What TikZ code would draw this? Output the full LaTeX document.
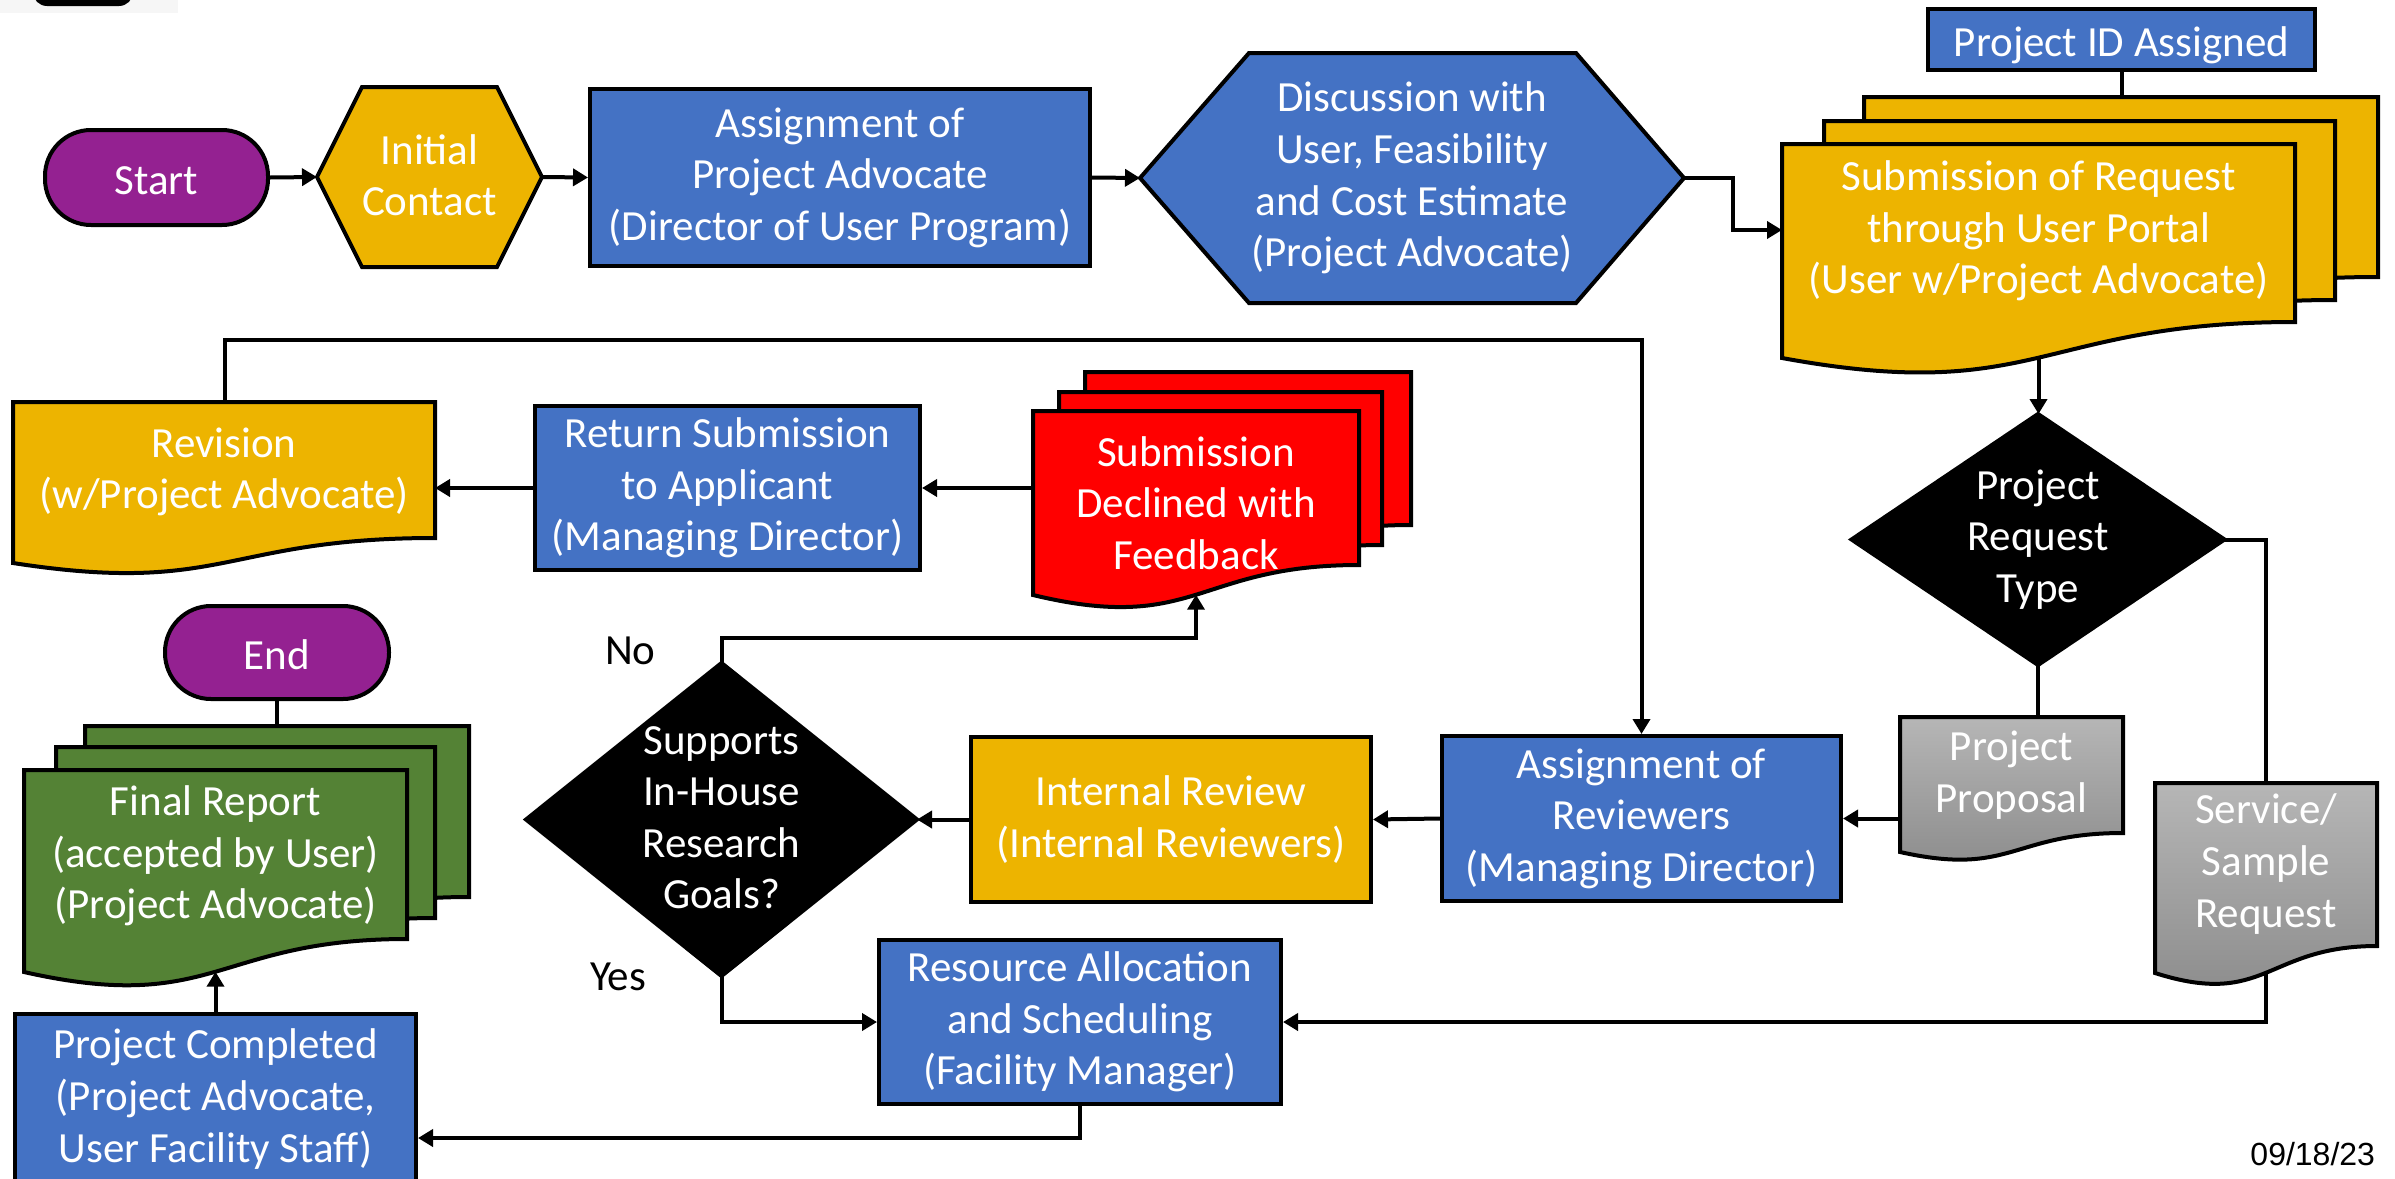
\documentclass[tikz,border=0pt]{standalone}
\usepackage{fontspec}
\setmainfont{Carlito}
\newfontfamily\datefont{Liberation Sans}
\usetikzlibrary{arrows.meta,calc}
\pgfdeclarelayer{bg}
\pgfsetlayers{bg,main}
\definecolor{cpurple}{RGB}{148,33,145}
\definecolor{cgold}{RGB}{237,180,0}
\definecolor{cblue}{RGB}{68,114,196}
\definecolor{cred}{RGB}{255,0,0}
\definecolor{cgreen}{RGB}{84,130,53}
\definecolor{cgrayA}{RGB}{182,182,182}
\definecolor{cgrayB}{RGB}{138,138,138}
\definecolor{cbgg}{RGB}{246,246,246}
\newcommand\dgdepth{8.6pt}
\newcommand\dgstrut{\rule[-\dgdepth]{0pt}{51.6pt}}
\tikzset{
  txt/.style={text=white, font=\fontsize{43}{51.6}\selectfont, align=center,
    inner sep=0pt, outer sep=0pt,
    execute at begin node=\dgstrut, execute at end node=\dgstrut},
  ml/.style={/utils/exec={\def\dgdepth{4.1pt}}},
  frame/.style={txt, rectangle},
  box/.style={txt, rectangle, draw=black, line width=4pt, outer sep=2pt},
  term/.style={box, fill=cpurple, rounded corners=46pt},
  lbl/.style={text=black, font=\fontsize{43}{51.6}\selectfont, inner sep=0pt},
  shp/.style={draw=black, line width=4pt, line join=miter},
  docst/.style={draw=black, line width=4pt, line join=miter},
  arr/.style={line width=4pt, -{Triangle[length=15pt,width=17pt]}},
  ln/.style={line width=4pt}
}
% name, xl, ytop, xr, yr, yl, style
\newcommand\docshape[7]{%
  \begin{pgfonlayer}{bg}
  \draw[docst,#7] (#2,#3) coordinate (#1-tl) -- (#4,#3) coordinate (#1-tr) -- (#4,#5)
    .. controls ({(#2+#4)/2},#5) and ({(#2+#4)/2},{#5+2.31*(#6-#5)}) .. (#2,#6)
    coordinate[pos=0.5] (#1-b) -- cycle;
  \end{pgfonlayer}}
\begin{document}
\begin{tikzpicture}[x=1pt,y=-1pt,line width=4pt]
\useasboundingbox (0,0) rectangle (2395,1178);
\fill[cbgg] (0,0) rectangle (178,13);
\fill[black, rounded corners=14pt] (33,-40) rectangle (133,6);

% ---------- nodes ----------
\node[term, minimum width=223pt, minimum height=95pt] (start) at (156.5,177.5) {Start};
\node[frame, ml, minimum width=225pt, minimum height=180pt] (ic) at (429.5,177) {Initial\\Contact};
\node[box, ml, fill=cblue, minimum width=500pt, minimum height=177pt] (apa) at (840,177.5)
  {Assignment of\\Project Advocate\\(Director of User Program)};
\node[frame, ml, minimum width=544pt, minimum height=250pt] (disc) at (1412,178)
  {Discussion with\\User, Feasibility\\and Cost Estimate\\(Project Advocate)};
\node[box, fill=cblue, minimum width=387pt, minimum height=61pt] (pid) at (2121.5,39.5) {Project ID Assigned};

\node[frame, ml, minimum width=373pt, minimum height=251pt] (prt) at (2038,539.5) {Project\\Request\\Type};
\node[box, ml, fill=cblue, minimum width=385pt, minimum height=164pt] (rs) at (727.5,488)
  {Return Submission\\to Applicant\\(Managing Director)};
\node[box, ml, fill=cblue, minimum width=399pt, minimum height=165pt] (aor) at (1641.5,818.5)
  {Assignment of\\Reviewers\\(Managing Director)};
\node[box, ml, fill=cgold, minimum width=400pt, minimum height=165pt] (irv) at (1171,819.5)
  {Internal Review\\(Internal Reviewers)};
\node[frame, ml, minimum width=391pt, minimum height=313pt] (sup) at (721.5,819.5)
  {Supports\\In-House\\Research\\Goals?};
\node[box, ml, fill=cblue, minimum width=402pt, minimum height=164pt] (ra) at (1080,1022)
  {Resource Allocation\\and Scheduling\\(Facility Manager)};
\node[box, ml, fill=cblue, minimum width=401pt, minimum height=170pt] (pc) at (215.5,1099)
  {Project Completed\\(Project Advocate,\\User Facility Staff)};
\node[term, minimum width=224pt, minimum height=93pt] (end) at (277,652.5) {End};

\node[lbl, anchor=base west] (no) at (603,664) {No};
\node[lbl, anchor=base west] (yes) at (588,990) {Yes};
\node[anchor=base east, inner sep=0pt, font=\datefont\fontsize{32}{38}\selectfont] (date) at (2377,1165) {09/18/23};

% ---------- shapes (background layer) ----------
\begin{pgfonlayer}{bg}
\draw[shp, fill=cgold] (ic.west) -- ([xshift=45pt]ic.north west) -- ([xshift=-45pt]ic.north east)
  -- (ic.east) -- ([xshift=-45pt]ic.south east) -- ([xshift=45pt]ic.south west) -- cycle;
\draw[shp, fill=cblue] (disc.west) -- ([xshift=109pt]disc.north west) -- ([xshift=-108pt]disc.north east)
  -- (disc.east) -- ([xshift=-108pt]disc.south east) -- ([xshift=109pt]disc.south west) -- cycle;
\draw[shp, fill=black] (prt.north) -- (prt.east) -- (prt.south) -- (prt.west) -- cycle;
\draw[shp, fill=black] (sup.north) -- (sup.east) -- (sup.south) -- (sup.west) -- cycle;
\end{pgfonlayer}

% documents
\docshape{subC}{1864}{97}{2378}{277}{313}{fill=cgold}
\docshape{subB}{1824}{121}{2335}{300}{336}{fill=cgold}
\docshape{sub}{1782}{144}{2295}{322}{358}{fill=cgold}
\node[txt, ml] (subT) at (2038.5,231) {Submission of Request\\through User Portal\\(User w/Project Advocate)};

\docshape{decC}{1085}{372}{1411}{525}{555}{fill=cred}
\docshape{decB}{1059}{392}{1382}{545}{575}{fill=cred}
\docshape{dec}{1033}{411}{1359}{565}{595}{fill=cred}
\node[txt, ml] (decT) at (1196,505) {Submission\\Declined with\\Feedback};

\docshape{rev}{13}{402}{435}{538}{563}{fill=cgold}
\node[txt, ml] (revT) at (224,472) {Revision\\(w/Project Advocate)};

\docshape{frC}{85}{726}{469}{897}{930}{fill=cgreen}
\docshape{frB}{56}{747}{435}{918}{951}{fill=cgreen}
\docshape{fr}{24}{770}{407}{939}{972}{fill=cgreen}
\node[txt, ml] (frT) at (215.5,856) {Final Report\\(accepted by User)\\(Project Advocate)};

\docshape{pp}{1900}{717}{2123}{833}{852}{top color=cgrayA,bottom color=cgrayB}
\node[txt, ml] (ppT) at (2011.5,775) {Project\\Proposal};

\docshape{svc}{2155}{783}{2377}{946}{973}{top color=cgrayA,bottom color=cgrayB}
\node[txt, ml] (svcT) at (2266,864) {Service/\\Sample\\Request};

% ---------- connectors ----------
\draw[arr] (start.east) -- (ic.west);
\draw[arr] (ic.east) -- (apa.west);
\draw[arr] (apa.east) -- (disc.west);
\draw[arr] (disc.east) -- ++(49,0) |- ([yshift=-86pt]sub-tl);
\draw[ln] (pid.south) -- (pid.south |- subC-tl);
\draw[arr] (sub-b) -- (sub-b |- prt.north);
\draw[ln] (prt.south) -- (prt.south |- pp-tl);
\draw[ln] (prt.east) -| (svc-b |- svc-tl);
\draw[arr] (pp-tl |- aor.east) -- (aor.east);
\draw[arr] (aor.west) -- (irv.east);
\draw[arr] (irv.west) -- (sup.east);
\draw[arr] (sup.north) -- ++(0,-25) -| (dec-b);
\draw[arr] ([yshift=-77pt]dec-tl) -- (rs.east);
\draw[arr] (rs.west) -- (rs.west -| rev-tr);
\draw[arr] ([xshift=212pt]rev-tl) -- ++(0,-62) -| (aor.north);
\draw[arr] (sup.south) |- (ra.west);
\draw[arr] (svc-b) |- (ra.east);
\draw[arr] (ra.south) -- ++(0,32) coordinate (rapc) -- (rapc -| pc.east);
\draw[arr] (pc.north) -- (pc.north |- fr-b);
\draw[ln] (end.south) -- (end.south |- frC-tl);
\end{tikzpicture}
\end{document}
